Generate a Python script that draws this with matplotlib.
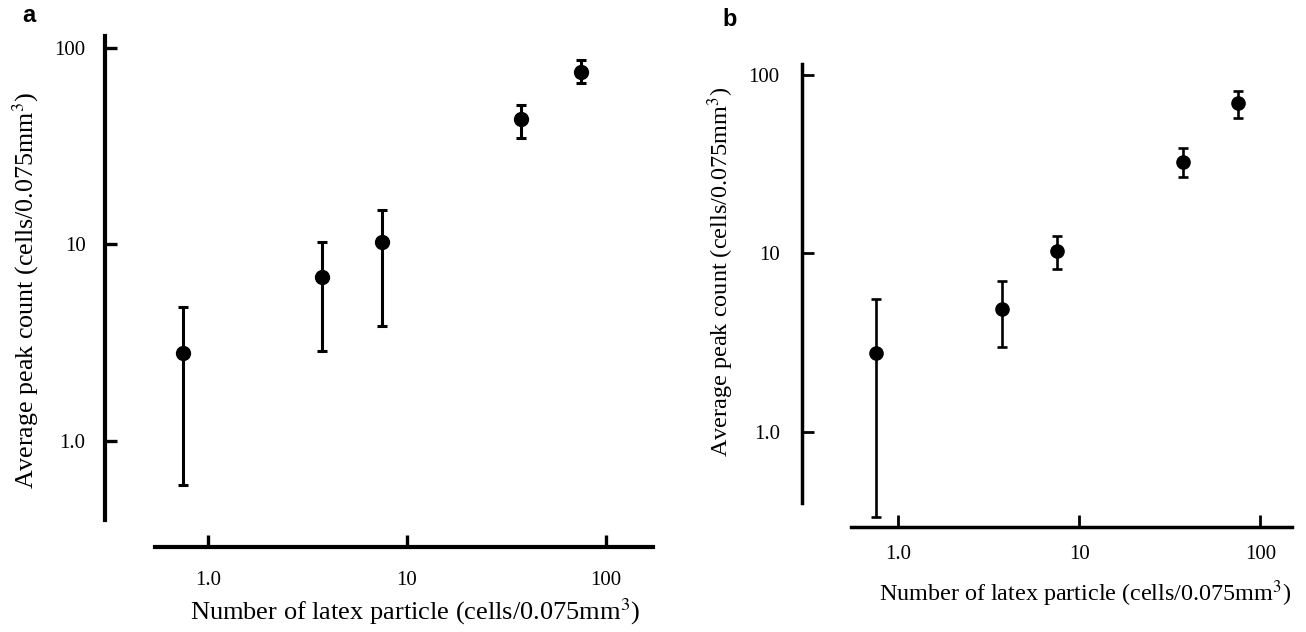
import numpy as np
import matplotlib
matplotlib.use("Agg")
import matplotlib.pyplot as plt

plt.rcParams['font.family'] = ['Liberation Serif', 'DejaVu Serif']
plt.rcParams['mathtext.fontset'] = 'stix'

# latex particle counts (same for both panels)
particles = [0.75, 3.75, 7.5, 37.5, 75]

# panel a: mean and error bar ends
a_mean = [2.79, 6.81, 10.3, 43.4, 75.7]
a_upper = [4.82, 10.3, 15.0, 51.3, 86.9]
a_lower = [0.60, 2.87, 3.85, 35.0, 66.1]

# panel b
b_mean = [2.76, 4.91, 10.3, 32.7, 69.4]
b_upper = [5.54, 7.01, 12.5, 38.8, 81.7]
b_lower = [0.335, 2.98, 8.19, 26.9, 57.6]

tick_vals = [1, 10, 100]
tick_labels = ['1.0', '10', '100']

W, H = 1306, 632


def px_rect(x0, x1, ytop, ybot):
    return [x0 / W, 1 - ybot / H, (x1 - x0) / W, (ybot - ytop) / H]


def draw_panel(ax, mean, upper, lower, xlim, ylim, left_out, bottom_out,
               spine_w, line_w, msize, xpad, ypad, xlabelpad, ylabelpad,
               xfs, yfs, tfs, xlab_x, ylab_y):
    mean = np.array(mean)
    yerr = [mean - np.array(lower), np.array(upper) - mean]
    cont = ax.errorbar(particles, mean, yerr=yerr, fmt='o', color='black',
                       markersize=msize, elinewidth=line_w, capsize=3.8,
                       capthick=line_w, ecolor='black')
    for art in cont.lines:
        if art is None:
            continue
        if isinstance(art, tuple):
            for a in art:
                a.set_clip_on(False)
        else:
            art.set_clip_on(False)

    ax.set_xscale('log')
    ax.set_yscale('log')
    ax.set_xlim(*xlim)
    ax.set_ylim(*ylim)
    ax.set_xticks(tick_vals)
    ax.set_xticklabels(tick_labels)
    ax.set_yticks(tick_vals)
    ax.set_yticklabels(tick_labels)
    ax.minorticks_off()

    for s in ['top', 'right']:
        ax.spines[s].set_visible(False)
    ax.spines['left'].set_position(('outward', left_out * 0.72))
    ax.spines['bottom'].set_position(('outward', bottom_out * 0.72))
    ax.spines['left'].set_linewidth(spine_w)
    ax.spines['bottom'].set_linewidth(spine_w)

    ax.tick_params(axis='both', direction='in', length=8.5, width=spine_w * 0.8,
                   labelsize=tfs)
    ax.tick_params(axis='x', pad=xpad)
    ax.tick_params(axis='y', pad=ypad)

    ax.set_xlabel('Number of latex particle (cells/0.075mm$^3$)', fontsize=xfs,
                  labelpad=xlabelpad)
    ax.set_ylabel('Average peak count (cells/0.075mm$^3$)', fontsize=yfs,
                  labelpad=ylabelpad)
    ax.xaxis.label.set_x(xlab_x)
    ax.yaxis.label.set_y(ylab_y)


fig = plt.figure(figsize=(13.06, 6.32), dpi=100)

ax_a = fig.add_axes(px_rect(155, 653, 36, 520))
draw_panel(ax_a, a_mean, a_upper, a_lower,
           xlim=(0.543, 173), ylim=(0.396, 115),
           left_out=50, bottom_out=27, spine_w=3.0, line_w=2.2, msize=10,
           xpad=17, ypad=14, xlabelpad=5, ylabelpad=10,
           xfs=19, yfs=18.7, tfs=15, xlab_x=0.522, ylab_y=0.475)

ax_b = fig.add_axes(px_rect(851, 1292, 64.5, 503))
draw_panel(ax_b, b_mean, b_upper, b_lower,
           xlim=(0.548, 149.6), ylim=(0.40, 114.5),
           left_out=49, bottom_out=24, spine_w=2.5, line_w=1.9, msize=9.5,
           xpad=13, ypad=16, xlabelpad=10, ylabelpad=9,
           xfs=17.4, yfs=17.5, tfs=15, xlab_x=0.531, ylab_y=0.527)

fig.text(22 / W, 1 - 15 / H, 'a', fontsize=17, fontweight='bold',
         family='Liberation Sans', ha='left', va='center')
fig.text(722 / W, 1 - 20 / H, 'b', fontsize=17, fontweight='bold',
         family='Liberation Sans', ha='left', va='center')

fig.savefig('out.png', dpi=100)
